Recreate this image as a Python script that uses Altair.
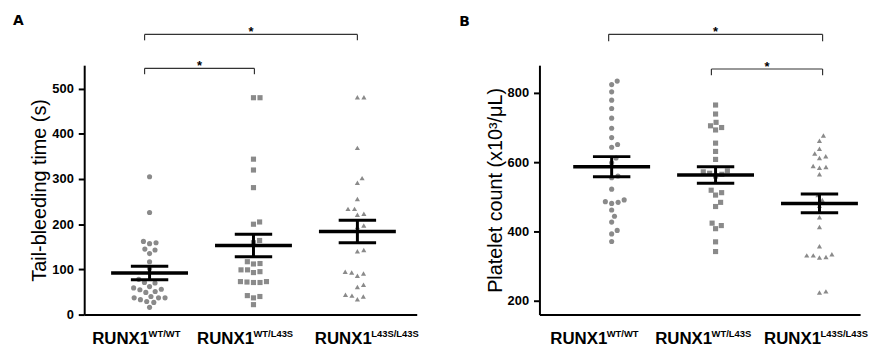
import altair as alt
import pandas as pd
import numpy as np

groups = ["WT/WT", "WT/L43S", "L43S/L43S"]
shapes = ["circle", "square", "triangle-up"]

# Panel A: tail-bleeding time (s)
bleed_wtwt = [305, 226, 162, 157, 159, 143, 135, 145, 117, 102, 71, 70, 78, 59, 55, 49, 51, 56, 62,
              40, 37, 33, 37, 37, 27, 29, 16]
bleed_wtl43s = [480, 480, 344, 320, 281, 200, 205, 164, 159, 117, 112, 113, 99, 95, 93, 99, 73, 72,
                71, 71, 73, 42, 37, 40, 22]
bleed_l43s = [481, 481, 369, 292, 302, 256, 234, 234, 221, 223, 194, 197, 143, 140, 91, 86, 93, 95,
              66, 61, 42, 34, 40, 44]
bleed_mean = [92, 153, 184]
bleed_sem = [15, 25, 25]

# Panel B: platelet count (x10^3/uL)
plt_wtwt = [834, 824, 803, 779, 755, 727, 698, 671, 651, 643, 612, 598, 560, 555, 522, 491, 481, 484,
            486, 462, 444, 427, 403, 393, 371]
plt_wtl43s = [765, 739, 715, 705, 700, 693, 655, 631, 608, 575, 572, 568, 565, 560, 519, 505, 512,
              484, 472, 424, 408, 417, 370, 342]
plt_l43s = [677, 662, 639, 625, 617, 612, 586, 589, 584, 565, 505, 491, 474, 441, 413, 357, 331, 326,
            325, 331, 334, 224, 227]
plt_mean = [587, 563, 481]
plt_sem = [29, 24, 27]

sup_labels = ["WT/WT", "WT/L43S", "L43S/L43S"]

FONT = "Liberation Sans"
GRAY = "#8a8a8a"
PX_PER_X = 105.0


def swarm(values, px_per_y, d_px):
    ys = np.array(values, dtype=float) * px_per_y
    order = np.argsort(ys)
    placed = []
    offs = np.zeros(len(values))
    for i in order:
        y = ys[i]
        cands = [0.0]
        for (pxx, pyy) in placed:
            dy = y - pyy
            if abs(dy) < d_px:
                dx = np.sqrt(d_px ** 2 - dy ** 2)
                cands += [pxx + dx, pxx - dx]
        cands.sort(key=abs)
        best = 0.0
        for c in cands:
            if all((c - a) ** 2 + (y - b) ** 2 >= d_px ** 2 - 1e-6 for a, b in placed):
                best = c
                break
        offs[i] = best
        placed.append((best, y))
    return offs / PX_PER_X


def panel(series, means, sems, ydom, height, width, xdom, ytitle, yticks,
          letter, letter_xy, brackets, lab_y, sup_y, lab_dx):
    px_per_y = height / (ydom[1] - ydom[0])
    rows = []
    for gi, vals in enumerate(series):
        offs = swarm(vals, px_per_y, 6.6)
        for v, o in zip(vals, offs):
            rows.append({"g": groups[gi], "x": gi + 1 + o, "v": v})
    pts = pd.DataFrame(rows)
    st = pd.DataFrame({
        "g": groups,
        "c": [1, 2, 3],
        "m": means,
        "lo": [m - s for m, s in zip(means, sems)],
        "hi": [m + s for m, s in zip(means, sems)],
    })
    st["x1"] = st["c"] - 0.37
    st["x2"] = st["c"] + 0.37
    st["c1"] = st["c"] - 0.18
    st["c2"] = st["c"] + 0.18

    xs = alt.Scale(domain=xdom, nice=False, zero=False)
    ys = alt.Scale(domain=ydom, nice=False, zero=False)

    base_x = alt.X("x:Q", scale=xs,
                   axis=alt.Axis(labels=False, ticks=False, title=None, grid=False,
                                 domainColor="black", domainWidth=2))
    base_y = alt.Y("v:Q", scale=ys,
                   axis=alt.Axis(title=ytitle, values=yticks, grid=False, format="d",
                                 domainColor="black", domainWidth=2, tickColor="black",
                                 tickWidth=2, tickSize=6, labelPadding=5,
                                 labelFont=FONT, labelFontSize=13, labelFontWeight="bold",
                                 labelColor="black", titleFont=FONT, titleFontSize=20,
                                 titleFontWeight="normal", titleColor="black",
                                 titlePadding=2))

    points = alt.Chart(pts).mark_point(filled=True, opacity=1, color=GRAY, size=27).encode(
        x=base_x, y=base_y,
        shape=alt.Shape("g:N", scale=alt.Scale(domain=groups, range=shapes), legend=None),
    )
    meanbar = alt.Chart(st).mark_rule(color="black", strokeWidth=3.5).encode(
        x=alt.X("x1:Q", scale=xs), x2="x2:Q", y=alt.Y("m:Q", scale=ys))
    cap_hi = alt.Chart(st).mark_rule(color="black", strokeWidth=3).encode(
        x=alt.X("c1:Q", scale=xs), x2="c2:Q", y=alt.Y("hi:Q", scale=ys))
    cap_lo = alt.Chart(st).mark_rule(color="black", strokeWidth=3).encode(
        x=alt.X("c1:Q", scale=xs), x2="c2:Q", y=alt.Y("lo:Q", scale=ys))
    vert = alt.Chart(st).mark_rule(color="black", strokeWidth=3).encode(
        x=alt.X("c:Q", scale=xs), y=alt.Y("lo:Q", scale=ys), y2="hi:Q")

    lab = pd.DataFrame({"c": [1, 2, 3], "main": ["RUNX1"] * 3, "sup": sup_labels,
                        "dx": lab_dx, "ly": [lab_y] * 3, "sy": [sup_y] * 3})
    lab["xm"] = lab["c"] + lab["dx"] / PX_PER_X
    lab["xs"] = lab["xm"] + 57.0 / PX_PER_X
    main_t = alt.Chart(lab).mark_text(font=FONT, fontSize=17, fontWeight="bold", color="black",
                                      align="left", baseline="alphabetic").encode(
        x=alt.X("xm:Q", scale=xs), y=alt.Y("ly:Q", scale=ys), text="main:N")
    sup_t = alt.Chart(lab).mark_text(font=FONT, fontSize=9.5, fontWeight="bold", color="black",
                                     align="left", baseline="alphabetic").encode(
        x=alt.X("xs:Q", scale=xs), y=alt.Y("sy:Q", scale=ys), text="sup:N")

    br = pd.DataFrame(brackets, columns=["xa", "xb", "yl", "yt"])
    br["xc"] = (br["xa"] + br["xb"]) / 2
    br["star"] = "*"
    hline = alt.Chart(br).mark_rule(color="#333333", strokeWidth=1.2).encode(
        x=alt.X("xa:Q", scale=xs), x2="xb:Q", y=alt.Y("yl:Q", scale=ys))
    lt = alt.Chart(br).mark_rule(color="#333333", strokeWidth=1.2).encode(
        x=alt.X("xa:Q", scale=xs), y=alt.Y("yl:Q", scale=ys), y2="yt:Q")
    rt = alt.Chart(br).mark_rule(color="#333333", strokeWidth=1.2).encode(
        x=alt.X("xb:Q", scale=xs), y=alt.Y("yl:Q", scale=ys), y2="yt:Q")
    stars = alt.Chart(br).mark_text(font=FONT, fontSize=13, fontWeight="bold", color="black",
                                    baseline="alphabetic", dy=2).encode(
        x=alt.X("xc:Q", scale=xs), y=alt.Y("yl:Q", scale=ys), text="star:N")

    let = pd.DataFrame({"x": [letter_xy[0]], "y": [letter_xy[1]], "t": [letter]})
    letter_t = alt.Chart(let).mark_text(font="DejaVu Sans", fontSize=14, fontWeight="bold",
                                        color="black", align="left",
                                        baseline="alphabetic").encode(
        x=alt.X("x:Q", scale=xs), y=alt.Y("y:Q", scale=ys), text="t:N")

    return alt.layer(points, meanbar, cap_hi, cap_lo, vert, main_t, sup_t,
                     hline, lt, rt, stars, letter_t).properties(width=width, height=height)


chart_a = panel(
    [bleed_wtwt, bleed_wtl43s, bleed_l43s], bleed_mean, bleed_sem,
    ydom=[0, 552], height=252, width=336, xdom=[0.371, 3.571],
    ytitle="Tail-bleeding time (s)", yticks=[0, 100, 200, 300, 400, 500],
    letter="A", letter_xy=(-0.315, 640),
    brackets=[(0.952, 3.0, 620, 607), (0.952, 2.009, 545, 532)],
    lab_y=-66, sup_y=-50, lab_dx=[-58, -57, -43],
)
chart_b = panel(
    [plt_wtwt, plt_wtl43s, plt_l43s], plt_mean, plt_sem,
    ydom=[160, 880], height=252, width=324, xdom=[0.305, 3.391],
    ytitle="Platelet count (x10³/μL)", yticks=[200, 400, 600, 800],
    letter="B", letter_xy=(-0.466, 994),
    brackets=[(0.971, 3.03, 969, 949), (1.96, 3.03, 869, 851)],
    lab_y=74, sup_y=94, lab_dx=[-62, -61, -56],
)

chart = alt.hconcat(chart_a, chart_b, spacing=40).properties(
    padding={"left": 4, "top": 4, "right": 0, "bottom": 0}
).configure_view(stroke=None)

chart.save("out.html", embed_options={"renderer": "svg", "actions": False})
